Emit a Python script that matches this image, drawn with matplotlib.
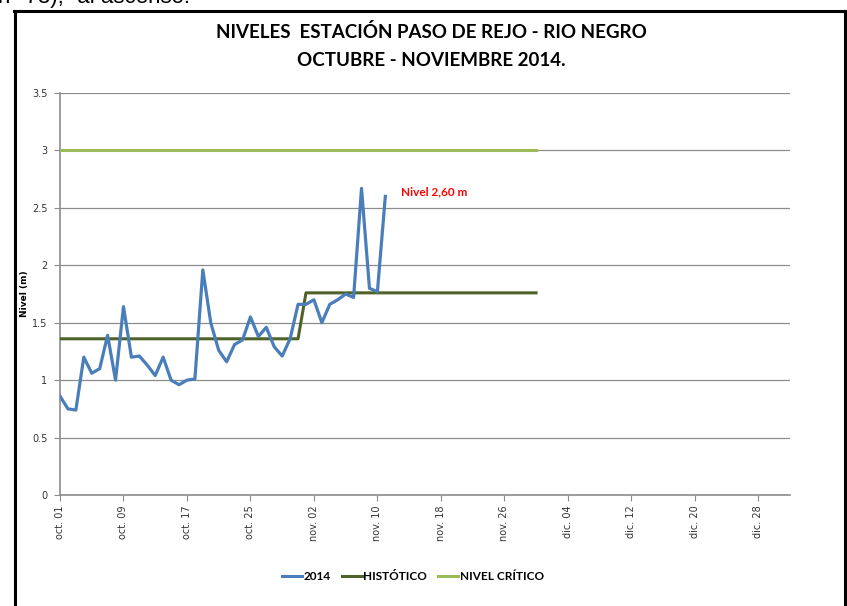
import matplotlib
matplotlib.use("Agg")
import matplotlib.pyplot as plt
from matplotlib.lines import Line2D
import numpy as np

plt.rcParams['font.family'] = ['DejaVu Sans']
calibri = ['Lato', 'DejaVu Sans']

# daily levels 2014, oct 01 .. nov 11
nivel_2014 = [0.86, 0.75, 0.74, 1.20, 1.06, 1.10, 1.39, 1.00, 1.64, 1.20,
              1.21, 1.13, 1.04, 1.20, 1.00, 0.96, 1.00, 1.01, 1.96, 1.50,
              1.26, 1.16, 1.31, 1.35, 1.55, 1.38, 1.46, 1.29, 1.21, 1.36,
              1.66,
              1.66, 1.70, 1.50, 1.66, 1.70, 1.75, 1.72, 2.67, 1.80, 1.77,
              2.60]
# historic level: october / november
historico_oct = 1.36
historico_nov = 1.76
nivel_critico = 3.0

meses = {10: 'oct.', 11: 'nov.', 12: 'dic.'}

inicio = np.datetime64('2014-10-01')
dias_2014 = inicio + np.arange(len(nivel_2014))
dias_ref = np.arange(np.datetime64('2014-10-01'), np.datetime64('2014-12-01'))
historico = [historico_oct if str(d)[5:7] == '10' else historico_nov for d in dias_ref]
critico = [nivel_critico] * len(dias_ref)

fig = plt.figure(figsize=(8.47, 6.06), dpi=100)
ax = fig.add_axes([60 / 847, 1 - 495 / 606, 730 / 847, 402 / 606])

ax.plot(dias_2014, nivel_2014, color='#4A7EBB', lw=2.3, zorder=4)
ax.plot(dias_ref, historico, color='#4F6228', lw=2.2, zorder=3)
ax.plot(dias_ref, critico, color='#9BBB59', lw=2.2, zorder=3)

ax.text(np.datetime64('2014-11-13'), 2.64, 'Nivel 2,60 m', color='red',
        fontsize=8.5, fontweight='bold', va='center', family=calibri)

ax.set_ylim(0, 3.5)
ax.set_yticks(np.arange(0, 3.51, 0.5))
ax.set_yticklabels(['0', '0.5', '1', '1.5', '2', '2.5', '3', '3.5'])
ax.set_xlim(np.datetime64('2014-10-01'),
            np.datetime64('2014-10-01') + np.timedelta64(92, 'D'))
ticks = np.arange(np.datetime64('2014-10-01'), np.datetime64('2014-12-31'), 8)
ax.set_xticks(ticks)
ax.set_xticklabels([meses[int(str(t)[5:7])] + ' ' + str(t)[8:10] for t in ticks],
                   rotation=90)

ax.grid(axis='y', color='#8c8c8c', lw=0.9)
ax.set_axisbelow(True)
for s in ['top', 'right']:
    ax.spines[s].set_visible(False)
for s in ['left', 'bottom']:
    ax.spines[s].set_color('#8c8c8c')
    ax.spines[s].set_linewidth(1.2)
ax.tick_params(axis='both', colors='#8c8c8c', labelcolor='#333333',
               labelsize=7, length=4)
ax.tick_params(axis='y', pad=5)
ax.set_ylabel('Nivel (m)', fontsize=6.5, fontweight='bold', labelpad=2)

fig.text(0.509, 1 - 32 / 606, 'NIVELES  ESTACIÓN PASO DE REJO - RIO NEGRO',
         ha='center', va='center', fontsize=13.5, fontweight='bold', family=calibri)
fig.text(0.509, 1 - 60 / 606, 'OCTUBRE - NOVIEMBRE 2014.',
         ha='center', va='center', fontsize=13.5, fontweight='bold', family=calibri)

# text line of the page above the chart, cut off
fig.text(-2 / 847, 1 - 3 / 606, 'n° 73),” al ascenso.', ha='left',
         va='baseline', fontsize=16, family=['Liberation Sans', 'DejaVu Sans'])

handles = [Line2D([], [], color='#4A7EBB', lw=2.2),
           Line2D([], [], color='#4F6228', lw=2.2),
           Line2D([], [], color='#9BBB59', lw=2.2)]
fig.legend(handles, ['2014', 'HISTÓTICO', 'NIVEL CRÍTICO'], loc='center',
           bbox_to_anchor=(413 / 847, 1 - 577 / 606), ncol=3, frameon=False,
           prop={'size': 8.5, 'weight': 'bold', 'family': calibri},
           handlelength=1.7, handletextpad=0.15, columnspacing=0.9)

# chart border
kw = dict(color='black', lw=2.2, transform=fig.transFigure)
fig.add_artist(Line2D([14.5 / 847, 14.5 / 847], [0, 1 - 11 / 606], **kw))
fig.add_artist(Line2D([13.5 / 847, 845.5 / 847], [1 - 11 / 606, 1 - 11 / 606], **kw))
fig.add_artist(Line2D([844.5 / 847, 844.5 / 847], [0, 1 - 11 / 606], **kw))

fig.savefig('out.png', dpi=100)
